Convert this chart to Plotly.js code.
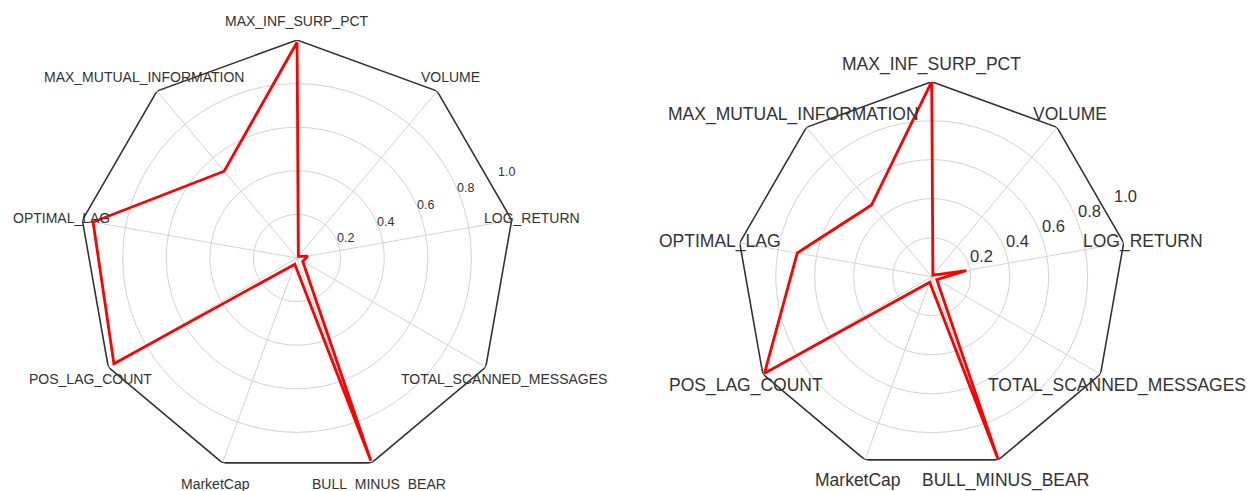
<!DOCTYPE html>
<html>
<head>
<meta charset="utf-8">
<script src="https://cdn.plot.ly/plotly-3.0.1.min.js"></script>
<style>html,body{margin:0;padding:0;background:#fff;}#chart{width:1247px;height:491px;}</style>
</head>
<body>
<div id="chart"></div>
<script>
// Categories, counterclockwise starting from the top
const categories = ["MAX_INF_SURP_PCT", "MAX_MUTUAL_INFORMATION", "OPTIMAL_LAG", "POS_LAG_COUNT",
  "MarketCap", "BULL_MINUS_BEAR", "TOTAL_SCANNED_MESSAGES", "LOG_RETURN", "VOLUME"];
const leftValues  = [0.99, 0.52, 0.95, 0.97, 0.03, 0.99, 0.03, 0.05, 0.01];
const rightValues = [1.00, 0.48, 0.70, 0.99, 0.03, 1.00, 0.03, 0.18, 0.01];
const radialTicks = [0.2, 0.4, 0.6, 0.8, 1.0];
const radialTickText = ["0.2", "0.4", "0.6", "0.8", "1.0"];

const W = 1247, H = 491;
const FONT = "Liberation Sans, Arial, sans-serif";
const TEXT_COLOR = "#333333";
const GRID_COLOR = "#d3d3d3";
const ROTATION = 90, RLABEL_ANGLE = 22.5;
const close = a => a.concat([a[0]]);

const panels = [
  { sub: "polar",  values: leftValues,  domain: { x: [0.0634, 0.413], y: [0.0305, 0.9185] },
    catSize: 14, tickSize: 12.5, labelR: 1.095, tickPad: 9, tickPerp: 1.2, textDrop: 1.5 },
  { sub: "polar2", values: rightValues, domain: { x: [0.5908, 0.9035], y: [0.0393, 0.8336] },
    catSize: 17.5, tickSize: 16.5, labelR: 1.1, tickPad: 15.5, tickPerp: 2.5, textDrop: 2 }
];

const data = [];
const annotations = [];
const layout = {
  width: W, height: H,
  margin: { l: 0, r: 0, t: 0, b: 0 },
  paper_bgcolor: "#ffffff",
  showlegend: false
};

panels.forEach(p => {
  data.push({ type: "scatterpolar", subplot: p.sub, mode: "lines",
    r: close(categories.map(() => 1)), theta: close(categories),
    line: { color: "#333333", width: 1.6 }, hoverinfo: "skip" });
  data.push({ type: "scatterpolar", subplot: p.sub, mode: "lines",
    r: close(p.values), theta: close(categories),
    line: { color: "#ff0000", width: 2.8 } });

  layout[p.sub] = {
    domain: p.domain,
    bgcolor: "rgba(0,0,0,0)",
    gridshape: "circular",
    radialaxis: {
      range: [0, 1], tickvals: radialTicks, ticktext: radialTickText,
      angle: RLABEL_ANGLE, showline: false, ticks: "", showticklabels: false,
      gridcolor: GRID_COLOR, gridwidth: 1
    },
    angularaxis: {
      type: "category", categoryarray: categories, rotation: ROTATION, direction: "counterclockwise",
      showline: false, ticks: "", showticklabels: false, gridcolor: GRID_COLOR, gridwidth: 1
    }
  };

  // geometry of the polar area (pixels)
  const x0 = p.domain.x[0] * W, x1 = p.domain.x[1] * W;
  const y0 = p.domain.y[0] * H, y1 = p.domain.y[1] * H;
  const cx = (x0 + x1) / 2, cy = (y0 + y1) / 2;
  const R = Math.min(x1 - x0, y1 - y0) / 2;
  const toPaper = (rpx, deg, perp, drop) => {
    const a = deg * Math.PI / 180;
    const px = cx + rpx * Math.cos(a) - perp * Math.sin(a);
    const py = cy + rpx * Math.sin(a) + perp * Math.cos(a) - drop;
    return { x: px / W, y: py / H };
  };
  const step = 360 / categories.length;
  categories.forEach((c, i) => {
    const pt = toPaper(p.labelR * R, ROTATION + i * step, 0, p.textDrop);
    annotations.push({ xref: "paper", yref: "paper", x: pt.x, y: pt.y, text: c, showarrow: false,
      xanchor: "center", yanchor: "middle", font: { family: FONT, size: p.catSize, color: TEXT_COLOR } });
  });
  radialTicks.forEach((t, i) => {
    const pt = toPaper(t * R + p.tickPad, RLABEL_ANGLE, p.tickPerp, p.textDrop);
    annotations.push({ xref: "paper", yref: "paper", x: pt.x, y: pt.y, text: radialTickText[i], showarrow: false,
      xanchor: "center", yanchor: "middle", font: { family: FONT, size: p.tickSize, color: TEXT_COLOR } });
  });
});
layout.annotations = annotations;

Plotly.newPlot("chart", data, layout, { staticPlot: true });
</script>
</body>
</html>
